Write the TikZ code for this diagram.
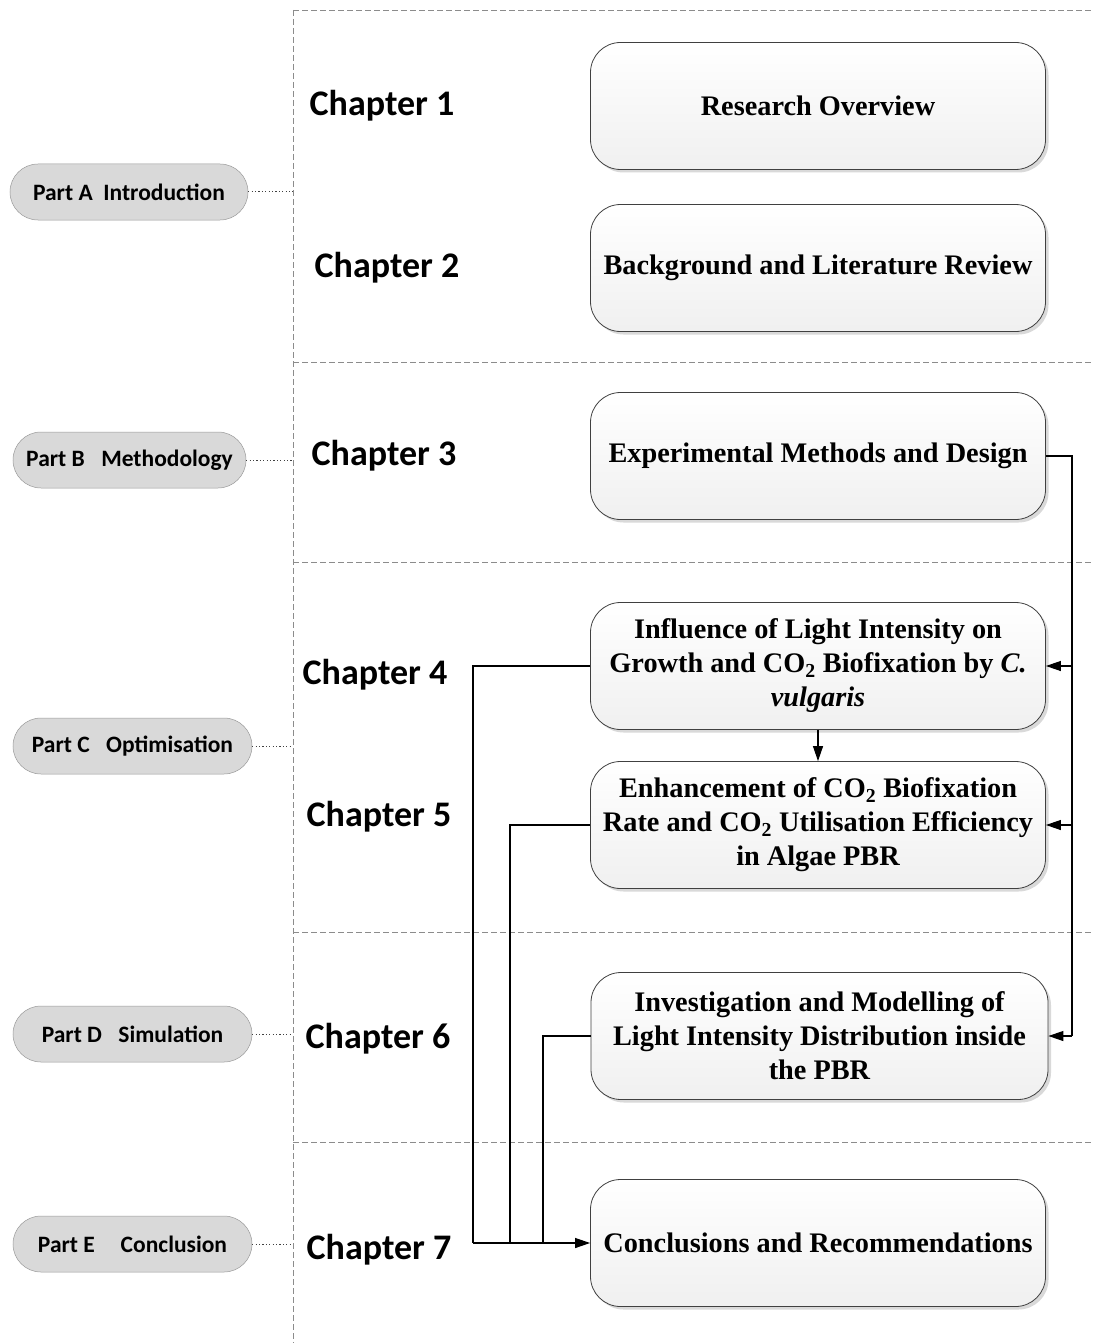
\documentclass[tikz,border=0pt]{standalone}
\usepackage{fontspec}
\setmainfont{Liberation Serif}
\newfontfamily\carlito{Carlito}
\usetikzlibrary{arrows.meta,shadows}
\begin{document}
\begin{tikzpicture}[x=1pt,y=-1pt,
  chbox/.style={draw=black!75,line width=0.8pt,rounded corners=30pt,minimum width=455pt,minimum height=127pt,
     top color=white,bottom color=black!6,align=center,font=\fontsize{28.3}{34}\selectfont\bfseries,inner sep=0pt,
     drop shadow={shadow xshift=3pt,shadow yshift=-3pt,fill=black!25,opacity=0.6}},
  chlab/.style={font=\carlito\fontsize{36}{40}\selectfont\bfseries},
  pill/.style={draw=black!40,line width=0.5pt,fill=black!15,rounded corners=28pt,minimum height=56pt,
     font=\carlito\fontsize{23.5}{26}\selectfont\bfseries,inner sep=0pt},
  sep/.style={draw=black!45,dashed,dash pattern=on 6pt off 3pt,line width=0.8pt},
  dots/.style={draw=black!75,dash pattern=on 1.2pt off 2.2pt,line width=1pt},
  conn/.style={draw=black,line width=1.1pt},
  arr/.style={conn,-{Triangle[length=15pt,width=10pt]}}
]
\useasboundingbox (0,0) rectangle (1092,1343);
% separators
\draw[sep] (293,10) -- (1092,10);
\draw[sep] (293,10) -- (293,1343);
\draw[sep] (293,362) -- (1092,362);
\draw[sep] (293,562) -- (1092,562);
\draw[sep] (293,932) -- (1092,932);
\draw[sep] (293,1142) -- (1092,1142);
% boxes
\node[chbox] (b1) at (818,106) {Research Overview};
\node[chbox] (b2) at (818,268) {Background and Literature Review};
\node[chbox] (b3) at (818,456) {Experimental Methods and Design};
\node[chbox] (b4) at (818,666) {Influence of Light Intensity on\\Growth and CO\textsubscript{2} Biofixation by \textit{C.}\\\textit{vulgaris}};
\node[chbox] (b5) at (818,825) {Enhancement of CO\textsubscript{2} Biofixation\\Rate and CO\textsubscript{2} Utilisation Efficiency\\in Algae PBR};
\node[chbox,minimum width=457pt] (b6) at (819.5,1036) {Investigation and Modelling of\\Light Intensity Distribution inside\\the PBR};
\node[chbox] (b7) at (818,1243) {Conclusions and Recommendations};
% chapter labels
\node[chlab] (c1) at (382,106) {Chapter 1};
\node[chlab] (c2) at (387,268) {Chapter 2};
\node[chlab] (c3) at (384,456) {Chapter 3};
\node[chlab] (c4) at (375,675) {Chapter 4};
\node[chlab] (c5) at (379,817) {Chapter 5};
\node[chlab] (c6) at (378,1039) {Chapter 6};
\node[chlab] (c7) at (379,1250) {Chapter 7};
% parts
\node[pill,minimum width=238pt] (pA) at (129,192) {Part A\hspace{0.45em}Introduction};
\node[pill,minimum width=233pt] (pB) at (129.5,460) {Part B\hspace{0.7em}Methodology};
\node[pill,minimum width=239pt] (pC) at (132.5,746) {Part C\hspace{0.7em}Optimisation};
\node[pill,minimum width=239pt] (pD) at (132.5,1034) {Part D\hspace{0.7em}Simulation};
\node[pill,minimum width=239pt] (pE) at (132.5,1244) {Part E\hspace{1.1em}Conclusion};
\coordinate (vA) at (293,192);
\coordinate (vB) at (293,460);
\coordinate (vC) at (293,746);
\coordinate (vD) at (293,1034);
\coordinate (vE) at (293,1244);
\draw[dots] (pA.east) -- (vA);
\draw[dots] (pB.east) -- (vB);
\draw[dots] (pC.east) -- (vC);
\draw[dots] (pD.east) -- (vD);
\draw[dots] (pE.east) -- (vE);
% right connectors
\draw[conn] (b3.east) -- (1072,456) -- (1072,1036);
\draw[arr] (1072,666) -- (b4.east);
\draw[arr] (1072,825) -- (b5.east);
\draw[arr] (1072,1036) -- (b6.east);
% middle arrow
\draw[arr] (b4.south) -- (b5.north);
% left connectors
\draw[conn] (b4.west) -- (473,666) -- (473,1243);
\draw[conn] (b5.west) -- (510,825) -- (510,1243);
\draw[conn] (b6.west) -- (543,1036) -- (543,1243);
\draw[arr] (473,1243) -- (b7.west);
\end{tikzpicture}
\end{document}
